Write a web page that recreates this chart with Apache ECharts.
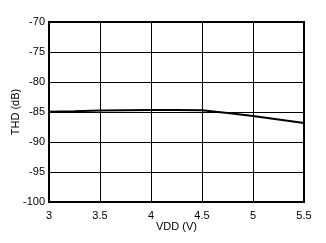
<!DOCTYPE html>
<html>
<head>
<meta charset="utf-8">
<script src="https://cdn.jsdelivr.net/npm/echarts@6/dist/echarts.min.js"></script>
<style>
html,body{margin:0;padding:0;background:#fff;}
#main{width:326px;height:243px;}
</style>
</head>
<body>
<div id="main"></div>
<script>
// THD vs VDD
var vdd = [3, 3.25, 3.5, 3.75, 4, 4.25, 4.5, 4.75, 5, 5.25, 5.5];
var thd = [-84.97, -84.88, -84.75, -84.7, -84.67, -84.67, -84.7, -85.15, -85.65, -86.25, -86.85];

var myChart = echarts.init(document.getElementById('main'));
var font = 'Liberation Sans, Arial, sans-serif';

option = {
	animation: false,
	grid: {
		left: 49, right: 22, top: 22, bottom: 41,
		outerBoundsMode: 'none',
		containLabel: false,
		show: true,
		borderColor: '#000',
		borderWidth: 2
	},
	xAxis: {
		type: 'value',
		min: 3, max: 5.5, interval: 0.5,
		name: 'VDD (V)',
		nameLocation: 'middle',
		nameGap: 19,
		nameMoveOverlap: false,
		nameTextStyle: {color: '#000', fontSize: 11, fontFamily: font},
		axisLine: {show: false},
		axisTick: {show: false},
		axisLabel: {color: '#000', fontSize: 11, fontFamily: font, margin: 8},
		splitLine: {lineStyle: {color: '#000', width: 1}}
	},
	yAxis: {
		type: 'value',
		min: -100, max: -70, interval: 5,
		name: 'THD (dB)',
		nameLocation: 'middle',
		nameGap: 28,
		nameMoveOverlap: false,
		nameTextStyle: {color: '#000', fontSize: 11, fontFamily: font},
		axisLine: {show: false},
		axisTick: {show: false},
		axisLabel: {color: '#000', fontSize: 11, fontFamily: font, margin: 4},
		splitLine: {lineStyle: {color: '#000', width: 1}}
	},
	series: [{
		type: 'line',
		data: vdd.map(function(v, i){ return [v, thd[i]]; }),
		showSymbol: false,
		lineStyle: {color: '#000', width: 2},
		z: 5
	}]
};

myChart.setOption(option);
</script>
</body>
</html>
